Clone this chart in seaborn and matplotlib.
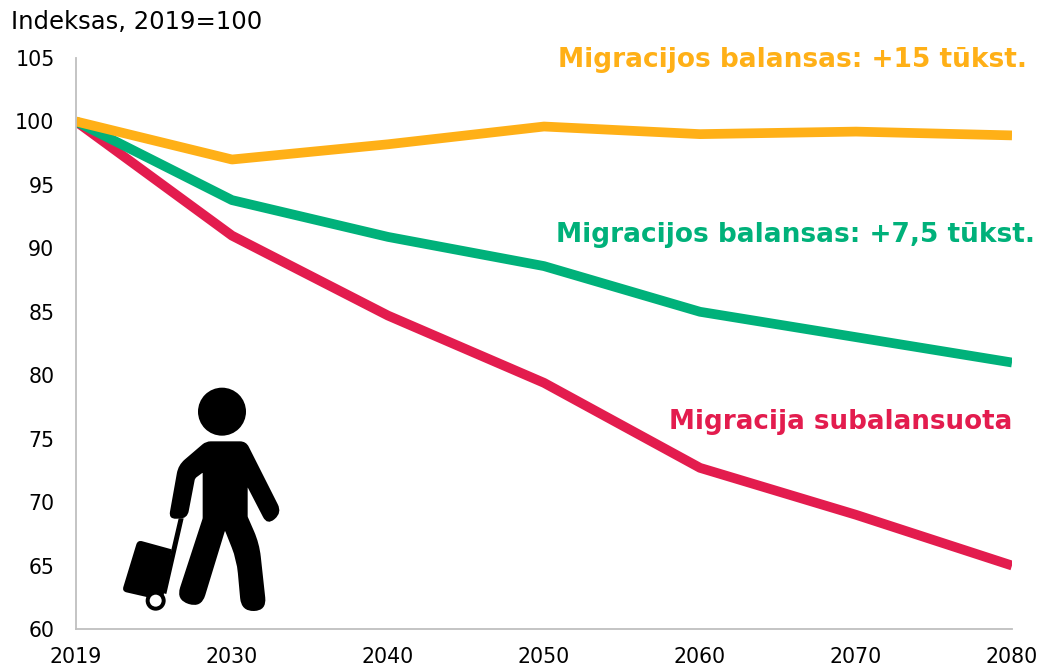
import matplotlib
matplotlib.use("Agg")
import math
import matplotlib.pyplot as plt
from matplotlib.patches import Circle, PathPatch
from matplotlib.path import Path
from matplotlib.transforms import Affine2D
import pandas as pd
import seaborn as sns

years = ["2019", "2030", "2040", "2050", "2060", "2070", "2080"]
balanced = [100, 91.0, 84.7, 79.4, 72.7, 69.0, 65.0]
plus_7_5 = [100, 93.8, 90.9, 88.6, 85.0, 83.0, 81.0]
plus_15 = [100, 97.0, 98.2, 99.6, 99.0, 99.2, 98.9]
name_bal = "Migracija subalansuota"
name_75 = "Migracijos balansas: +7,5 tūkst."
name_15 = "Migracijos balansas: +15 tūkst."
y_ticks = list(range(60, 110, 5))
colors = {name_bal: "#E31C4E", name_75: "#00B17A", name_15: "#FFB017"}

W, H = 1039, 667
sns.set_theme(style="white")
plt.rcParams["font.family"] = ["DejaVu Sans"]

df = pd.concat([
    pd.DataFrame({"pos": range(len(years)), "value": vals, "series": name})
    for name, vals in [(name_bal, balanced), (name_75, plus_7_5), (name_15, plus_15)]
])

fig = plt.figure(figsize=(W / 100, H / 100), dpi=100, facecolor="white")
ax = fig.add_axes([76 / W, 1 - 629 / H, (1012 - 76) / W, (629 - 58) / H])
sns.lineplot(data=df, x="pos", y="value", hue="series", palette=colors, ax=ax,
             linewidth=7, legend=False, sort=False, solid_capstyle="butt",
             solid_joinstyle="round")

ax.set_xlim(0, len(years) - 1)
ax.set_ylim(60, 105)
ax.set_xticks(range(len(years)), years)
ax.set_yticks(y_ticks)
ax.set_xlabel("")
ax.set_ylabel("")
ax.tick_params(axis="both", length=0, labelsize=14.8, labelcolor="black")
ax.tick_params(axis="x", pad=13.2)
ax.tick_params(axis="y", pad=15.5)
for s in ("top", "right"):
    ax.spines[s].set_visible(False)
for s in ("left", "bottom"):
    ax.spines[s].set_color("#BFBFBF")
    ax.spines[s].set_linewidth(1.3)

def px(x, y):
    return x / W, 1 - y / H

fig.text(*px(11, 22), "Indeksas, 2019=100", fontsize=17.5, color="black", va="center", ha="left")
fig.text(*px(1027, 60), name_15, fontsize=19, fontweight="bold", color=colors[name_15], va="center", ha="right")
fig.text(*px(1035, 235), name_75, fontsize=19, fontweight="bold", color=colors[name_75], va="center", ha="right")
fig.text(*px(1012, 422), name_bal, fontsize=18.8, fontweight="bold", color=colors[name_bal], va="center", ha="right")

# Traveller icon: decoration, outlined in the pixel space of the zoomed crop
tr = Affine2D().scale(1 / 3).translate(100, 370).scale(1, -1).translate(0, H)

def rounded(pts, radius):
    """Closed path through pts with every corner rounded by a quadratic curve."""
    verts, codes = [], []
    n = len(pts)
    for i in range(n):
        p0, p1, p2 = pts[i - 1], pts[i], pts[(i + 1) % n]
        r = radius[i] if isinstance(radius, list) else radius
        d0 = math.dist(p0, p1)
        d1 = math.dist(p1, p2)
        a = min(r, d0 / 2) / d0
        b = min(r, d1 / 2) / d1
        start = (p1[0] + (p0[0] - p1[0]) * a, p1[1] + (p0[1] - p1[1]) * a)
        end = (p1[0] + (p2[0] - p1[0]) * b, p1[1] + (p2[1] - p1[1]) * b)
        verts += [start, p1, end]
        codes += [Path.MOVETO if i == 0 else Path.LINETO, Path.CURVE3, Path.CURVE3]
    verts.append(verts[0])
    codes.append(Path.CLOSEPOLY)
    return Path(verts, codes)

body = [(318, 214), (438, 214), (546, 428), (502, 466), (443, 352), (443, 440),
        (478, 520), (500, 722), (424, 724), (410, 570), (375, 482), (304, 714),
        (228, 690), (308, 445), (308, 308), (285, 325), (262, 445), (206, 447),
        (235, 285)]
body_r = [14, 18, 28, 28, 2, 2, 40, 40, 40, 40, 3, 40, 40, 2, 2, 6, 22, 22, 25]
case = [(113, 510), (215, 538), (188, 692), (66, 664)]
handle = [(236, 445), (251, 445), (199, 672), (184, 668)]

for path in (rounded(case, [14, 2, 2, 14]), rounded(handle, 1), rounded(body, body_r)):
    fig.add_artist(PathPatch(path, facecolor="black", edgecolor="none", transform=tr))
fig.add_artist(Circle((366, 125), 72, facecolor="black", edgecolor="none", transform=tr))
fig.add_artist(Circle((167, 692), 30, facecolor="black", edgecolor="none", transform=tr))
fig.add_artist(Circle((167, 692), 18, facecolor="white", edgecolor="none", transform=tr))

fig.savefig("out.png", dpi=100, facecolor="white")
